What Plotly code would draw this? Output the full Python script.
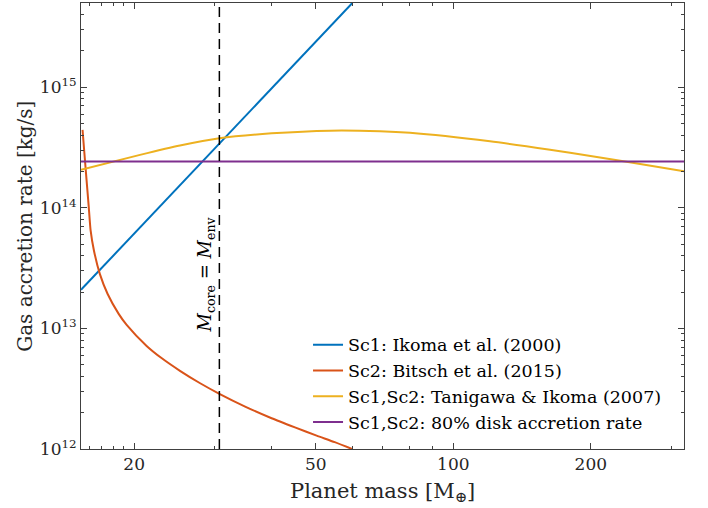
import math
import plotly.graph_objects as go

# ---- data ----
mass_ikoma = [15.3, 30.74, 60.1]
rate_ikoma = [2.09e13, 3.41e14, 5.0e15]

mass_bitsch = [15.42, 15.56, 15.73, 15.9, 16.06, 16.33, 16.83, 17.5, 18.5, 19.26, 21.3, 23.0,
               25.2, 27.9, 30.74, 35.0, 40.0, 45.0, 50.2, 55.0, 60.0]
rate_bitsch = [4.43e14, 2.88e14, 1.72e14, 1.05e14, 6.5e13, 4.43e13, 2.82e13, 1.93e13, 1.32e13,
               1.07e13, 7.16e12, 5.65e12, 4.45e12, 3.51e12, 2.87e12, 2.25e12, 1.80e12, 1.51e12,
               1.29e12, 1.14e12, 1.0e12]

mass_tanigawa = [15.3, 20.6, 25.2, 30.74, 40.0, 53.7, 69.1, 80.4, 120.3, 162.9, 180.2, 237.7, 320]
rate_tanigawa = [2.07e14, 2.75e14, 3.29e14, 3.78e14, 4.15e14, 4.37e14, 4.32e14, 4.19e14,
                 3.56e14, 3.03e14, 2.86e14, 2.42e14, 2.01e14]

mass_disk = [15.3, 320]
rate_disk = [2.42e14, 2.42e14]

m_core_env = 30.74

labels = ["Sc1: Ikoma et al. (2000)",
          "Sc2: Bitsch et al. (2015)",
          "Sc1,Sc2: Tanigawa & Ikoma (2007)",
          "Sc1,Sc2: 80% disk accretion rate"]
colors = ["#0072BD", "#D95319", "#EDB120", "#7E2F8E"]

x_major = [20, 50, 100, 200]
x_minor = [16, 17, 18, 19, 30, 40, 60, 70, 80, 90, 300]
y_major = [1e12, 1e13, 1e14, 1e15]
y_major_text = ["10<sup>12</sup>", "10<sup>13</sup>", "10<sup>14</sup>", "10<sup>15</sup>"]
y_minor = [m * 10 ** e for e in (12, 13, 14, 15) for m in range(2, 10) if m * 10 ** e <= 5e15]

FONT = "DejaVu Serif"
AX = "#404040"
TXT = "#262626"

fig = go.Figure()
series = [(mass_ikoma, rate_ikoma, "linear"), (mass_bitsch, rate_bitsch, "spline"),
          (mass_tanigawa, rate_tanigawa, "spline"), (mass_disk, rate_disk, "linear")]
for (xs, ys, shp), name, c in zip(series, labels, colors):
    fig.add_trace(go.Scatter(x=xs, y=ys, mode="lines", name=name,
                             line=dict(color=c, width=2, shape=shp, smoothing=0.6)))

fig.add_trace(go.Scatter(x=[m_core_env, m_core_env], y=[1e12, 5e15], mode="lines",
                         showlegend=False, line=dict(color="black", width=1.5, dash="10px,6px")))

fig.add_annotation(x=math.log10(m_core_env), y=13.45, xref="x", yref="y",
                   text="<i>M</i><sub>core</sub> = <i>M</i><sub>env</sub>",
                   textangle=-90, showarrow=False, xshift=-13,
                   font=dict(family=FONT, size=18, color="black"))

fig.add_annotation(x=0.5, y=-0.096, xref="paper", yref="paper", yanchor="middle",
                   text="Planet mass [M<sub>⊕</sub>]", showarrow=False,
                   font=dict(family=FONT, size=21, color=TXT))
fig.add_annotation(x=-0.07, y=0.5, xref="paper", yref="paper", xanchor="right",
                   text="Gas accretion rate [kg/s]", textangle=-90, showarrow=False,
                   font=dict(family=FONT, size=20, color=TXT))

axis_common = dict(type="log", showgrid=False, zeroline=False, showline=True,
                   linecolor=AX, linewidth=1, mirror="ticks", ticks="inside",
                   ticklen=6, tickcolor=AX, tickwidth=1,
                   tickfont=dict(family=FONT, size=17, color=TXT))

fig.update_layout(
    width=708, height=508,
    margin=dict(l=81, r=24, t=3, b=59),
    paper_bgcolor="white", plot_bgcolor="white",
    xaxis=dict(range=[math.log10(15.3), math.log10(320)], tickvals=x_major,
               ticktext=[str(v) for v in x_major],
               minor=dict(tickvals=x_minor, ticks="inside", ticklen=3, tickcolor=AX),
               **axis_common),
    yaxis=dict(range=[12, math.log10(5e15)], tickvals=y_major, ticktext=y_major_text,
               minor=dict(tickvals=y_minor, ticks="inside", ticklen=3, tickcolor=AX),
               **axis_common),
    legend=dict(x=0.3765, y=0.274, xanchor="left", yanchor="top",
                bgcolor="rgba(255,255,255,0)", borderwidth=0,
                font=dict(family=FONT, size=17.5, color="black"),
                tracegroupgap=0, itemwidth=30),
    showlegend=True,
)

fig.write_html("out.html", config={"displayModeBar": False},
               post_script="document.body.style.margin='0';")
